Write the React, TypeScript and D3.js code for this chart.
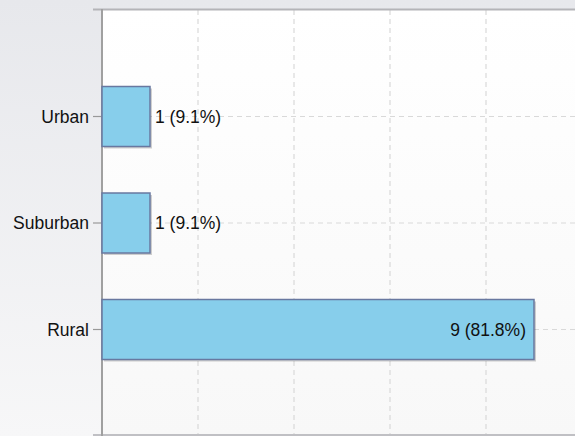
import React from "react";
import * as d3 from "d3";

const categories = ["Urban", "Suburban", "Rural"];
const values = [1, 1, 9];
const labels = ["1 (9.1%)", "1 (9.1%)", "9 (81.8%)"];
const xGridTicks = [2, 4, 6, 8];

const W = 575;
const H = 436;

export default function App() {
  const x = d3.scaleLinear().domain([0, 10]).range([102, 582]);
  const y = d3.scaleLinear().domain([0, 4]).range([10, 436]);
  const barH = 60;
  const font = "'Liberation Sans', Arial, sans-serif";
  return (
    <div style={{ position: "fixed", left: 0, top: 0 }}>
      <svg width={W} height={H} style={{ display: "block" }}>
        <defs>
          <linearGradient id="bg" x1="0" y1="0" x2="0" y2="1">
            <stop offset="0" stopColor="#e7e8ec" />
            <stop offset="1" stopColor="#f7f7f8" />
          </linearGradient>
          <linearGradient id="plot" x1="0" y1="0" x2="0" y2="1">
            <stop offset="0" stopColor="#ffffff" />
            <stop offset="1" stopColor="#f8f8f8" />
          </linearGradient>
        </defs>
        <rect x={0} y={0} width={W} height={H} fill="url(#bg)" />
        <rect x={x(0)} y={y(0)} width={W - x(0)} height={H - y(0)} fill="url(#plot)" />
        {xGridTicks.map((t) => (
          <line key={"gx" + t} x1={x(t)} x2={x(t)} y1={y(0)} y2={H} stroke="#d9d9d9" strokeWidth={1.2} strokeDasharray="5,4" />
        ))}
        {categories.map((c, i) => (
          <line key={"gy" + c} x1={x(0)} x2={W} y1={y(i + 1)} y2={y(i + 1)} stroke="#d9d9d9" strokeWidth={1.2} strokeDasharray="5,4" />
        ))}
        {/* top border */}
        <line x1={93} x2={W} y1={9.5} y2={9.5} stroke="#b4b4b8" strokeWidth={2} />
        <line x1={93} x2={W} y1={435} y2={435} stroke="#c0c0c4" strokeWidth={2} />
        {/* left axis */}
        <line x1={x(0)} x2={x(0)} y1={9} y2={H} stroke="#a0a0a0" strokeWidth={2} />
        {categories.map((c, i) => (
          <g key={c}>
            <line x1={93} x2={x(0)} y1={y(i + 1)} y2={y(i + 1)} stroke="#999" strokeWidth={1.2} />
            <text x={89} y={y(i + 1)} dy="0.35em" textAnchor="end" fontFamily={font} fontSize={17.5} fill="#111">
              {c}
            </text>
          </g>
        ))}
        {values.map((v, i) => {
          const yc = y(i + 1);
          const w = x(v) - x(0);
          const inside = v >= 5;
          return (
            <g key={"b" + i}>
              <rect x={x(0) + 2} y={yc - barH / 2 + 2} width={w} height={barH} fill="#000" opacity={0.18} />
              <rect x={x(0)} y={yc - barH / 2} width={w} height={barH} fill="#87ceeb" stroke="#6878a0" strokeWidth={1.5} />
              <text
                x={inside ? x(v) - 8 : x(v) + 5}
                y={yc}
                dy="0.35em"
                textAnchor={inside ? "end" : "start"}
                fontFamily={font}
                fontSize={17.5}
                fill="#111"
              >
                {labels[i]}
              </text>
            </g>
          );
        })}
      </svg>
    </div>
  );
}
